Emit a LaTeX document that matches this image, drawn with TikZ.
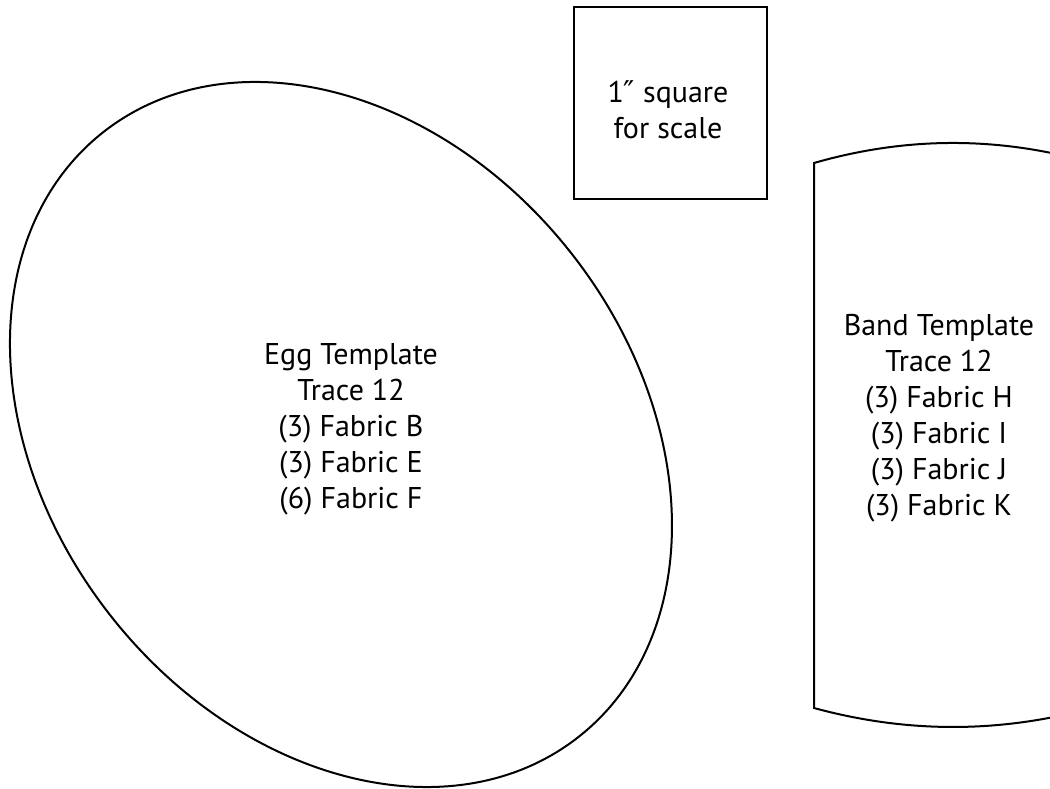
\documentclass[tikz,border=0pt]{standalone}
\usepackage{fontspec}
\setmainfont{PT Sans}
\newfontfamily\primefont{DejaVu Sans}
\tikzset{
	outline/.style={draw=black, line width=2pt},
	tmpltext/.style={align=center, inner sep=0pt, font=\fontsize{30}{36}\selectfont},
}
\begin{document}
\begin{tikzpicture}[x=1pt, y=1pt]
		\useasboundingbox (0,0) rectangle (1050,788);
		% scale square
		\draw[outline] (574,589) rectangle (767,781);
		\node[tmpltext] (sqtext) at (668,678) {1{\primefont ″} square\\for scale};
		% egg
		\coordinate (eggc) at (341,353.5);
		\draw[outline, rotate around={-51.85:(eggc)}] (eggc) ellipse [x radius=384.6, y radius=293.1];
		\node[tmpltext] (eggtext) at (351,359) {Egg Template\\Trace 12\\(3) Fabric B\\(3) Fabric E\\(6) Fabric F};
		% band
		\draw[outline] (814,80) -- (814,625) .. controls (906.7,651.7) and (999.3,651.7) .. (1092,625)
			-- (1092,80) .. controls (999.3,54.7) and (906.7,54.7) .. cycle;
		\node[tmpltext] (bandtext) at (939,370) {Band Template\\Trace 12\\(3) Fabric H\\(3) Fabric I\\(3) Fabric J\\(3) Fabric K};
	\end{tikzpicture}
\end{document}
